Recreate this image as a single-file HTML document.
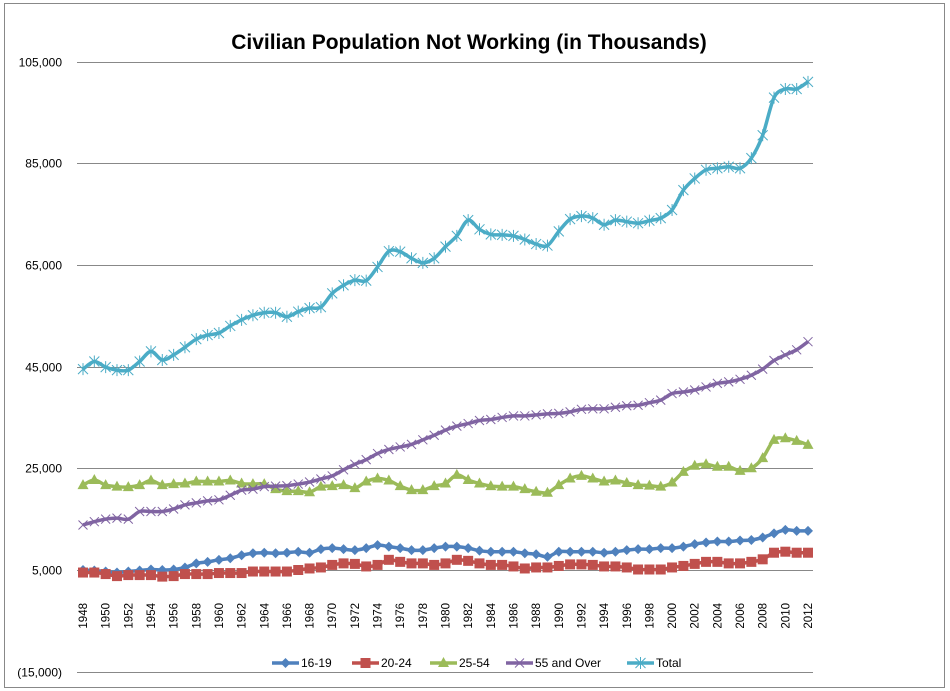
<!DOCTYPE html>
<html><head><meta charset="utf-8"><style>
body{margin:0;background:#fff;}
svg{display:block;font-family:"Liberation Sans",sans-serif;}
</style></head><body>
<svg id="chart" width="950" height="691">
<rect x="4.5" y="3.5" width="940" height="684" fill="#fff" stroke="#888"/>
<text x="469" y="49" text-anchor="middle" font-size="21" font-weight="bold">Civilian Population Not Working (in Thousands)</text>
<g id="grid"></g><g id="xlabels"></g><g id="series"></g><g id="legend"></g>
</svg>
<script>
const years = []; for (let y = 1948; y <= 2012; y++) years.push(y);
const yTicks = [105000, 85000, 65000, 45000, 25000, 5000, -15000];
const yTickLabels = ["105,000","85,000","65,000","45,000","25,000","5,000","(15,000)"];
const seriesNames = ["16-19","20-24","25-54","55 and Over","Total"];
const s1619 = [5.0,4.9,4.7,4.5,4.7,4.9,5.1,5.0,5.1,5.5,6.3,6.6,7.0,7.3,7.9,8.3,8.4,8.3,8.4,8.6,8.4,9.1,9.3,9.1,8.9,9.3,9.9,9.6,9.3,8.9,8.9,9.3,9.6,9.6,9.3,8.8,8.6,8.6,8.6,8.3,8.1,7.6,8.6,8.6,8.6,8.6,8.4,8.6,8.9,9.1,9.1,9.3,9.3,9.6,10.1,10.4,10.6,10.6,10.8,10.9,11.4,12.2,12.9,12.7,12.7];
const s2024 = [4.5,4.5,4.2,3.8,4.0,4.0,4.0,3.7,3.8,4.2,4.2,4.2,4.4,4.4,4.4,4.7,4.7,4.7,4.7,5.0,5.3,5.5,6.0,6.3,6.2,5.7,6.0,7.0,6.6,6.3,6.3,6.0,6.3,7.0,6.8,6.3,6.0,6.0,5.7,5.3,5.5,5.5,5.8,6.1,6.1,6.0,5.7,5.7,5.5,5.1,5.1,5.1,5.5,5.8,6.2,6.6,6.6,6.3,6.3,6.6,7.1,8.4,8.6,8.4,8.4];
const s2554 = [21.7,22.7,21.7,21.4,21.3,21.7,22.6,21.7,21.9,22.0,22.4,22.4,22.4,22.6,22.0,21.9,21.9,20.9,20.5,20.5,20.3,21.4,21.5,21.7,21.1,22.4,23.0,22.6,21.5,20.7,20.7,21.5,22.0,23.7,22.7,22.0,21.5,21.4,21.4,20.9,20.4,20.2,21.7,23.0,23.5,23.0,22.4,22.6,22.1,21.7,21.6,21.4,22.2,24.3,25.5,25.8,25.3,25.3,24.5,25.0,27.0,30.6,30.9,30.4,29.6];
const s55 = [13.85,14.5,15.0,15.2,15.0,16.5,16.5,16.5,17.0,17.8,18.2,18.6,18.8,19.7,20.7,20.9,21.4,21.5,21.6,21.9,22.3,22.9,23.5,24.7,25.8,26.7,27.9,28.7,29.2,29.7,30.6,31.5,32.5,33.3,33.8,34.4,34.6,35.0,35.3,35.3,35.5,35.7,35.8,36.1,36.6,36.7,36.7,37.0,37.3,37.4,37.9,38.4,39.7,40.0,40.4,41.0,41.7,42.0,42.5,43.3,44.5,46.2,47.3,48.3,49.9];
const sTotal = [44.5,46.0,44.9,44.3,44.3,46.0,48.0,46.3,47.3,48.8,50.4,51.2,51.6,53.0,54.2,55.1,55.6,55.6,54.8,55.8,56.5,56.7,59.4,61.0,62.0,61.9,64.6,67.7,67.6,66.3,65.4,66.3,68.6,70.7,73.8,72.0,71.0,70.9,70.7,70.0,69.1,68.8,71.6,74.0,74.6,74.2,72.9,73.8,73.5,73.2,73.7,74.2,75.8,79.7,82.0,83.7,84.0,84.3,84.0,86.0,90.5,97.9,99.6,99.6,101.0];

const NS="http://www.w3.org/2000/svg";
const X0=83, X1=808, PL=77, PR=813;
const xPos = i => X0 + (X1-X0)*i/(years.length-1);
const yPos = v => 570 - (v-5000)*(101.7/20000);
function mk(tag, attrs, parent){const e=document.createElementNS(NS,tag);for(const k in attrs)e.setAttribute(k,attrs[k]);parent.appendChild(e);return e;}

const grid=document.getElementById('grid');
yTicks.forEach((t,i)=>{
  const y=Math.round(yPos(t))+0.5;
  const l=mk('line',{x1:PL,x2:PR,y1:y,y2:y,stroke:'#888','stroke-width':1},grid);
  
  
  const tx=mk('text',{x:62,y:y+4,'text-anchor':'end','font-size':12},grid);
  tx.textContent=yTickLabels[i];
  
  
});
const xl=document.getElementById('xlabels');
years.forEach((yr,i)=>{
  if(i%2) return;
  const x=xPos(i)+4;
  const t=mk('text',{x:0,y:0,transform:`translate(${x},603) rotate(-90)`,'text-anchor':'end','font-size':11.5},xl);
  t.textContent=yr;
  
  
});

const colors=['#4F81BD','#C0504D','#9BBB59','#8064A2','#4BACC6'];
const data=[s1619,s2024,s2554,s55,sTotal];
function smoothPath(pts){
  let d=`M${pts[0][0]},${pts[0][1]}`;const t=0.16;
  for(let i=0;i<pts.length-1;i++){
    const p0=pts[Math.max(0,i-1)],p1=pts[i],p2=pts[i+1],p3=pts[Math.min(pts.length-1,i+2)];
    d+=` C${p1[0]+(p2[0]-p0[0])*t},${p1[1]+(p2[1]-p0[1])*t} ${p2[0]-(p3[0]-p1[0])*t},${p2[1]-(p3[1]-p1[1])*t} ${p2[0]},${p2[1]}`;
  }
  return d;
}
function marker(k,x,y,g,c){
  let e;
  if(k===0) e=mk('polygon',{points:`${x},${y-5} ${x+5},${y} ${x},${y+5} ${x-5},${y}`,fill:c},g);
  else if(k===1) e=mk('rect',{x:x-5,y:y-5,width:10,height:10,fill:c},g);
  else if(k===2) e=mk('polygon',{points:`${x},${y-6} ${x+5.5},${y+4} ${x-5.5},${y+4}`,fill:c},g);
  else if(k===3) e=mk('path',{d:`M${x-4.5},${y-4.5}L${x+4.5},${y+4.5}M${x-4.5},${y+4.5}L${x+4.5},${y-4.5}`,stroke:c,'stroke-width':1,fill:'none'},g);
  else e=mk('path',{d:`M${x-5},${y-5}L${x+5},${y+5}M${x-5},${y+5}L${x+5},${y-5}M${x},${y-6}V${y+6}`,stroke:c,'stroke-width':1,fill:'none'},g);
  return e;
}
const sg=document.getElementById('series');
data.forEach((arr,k)=>{
  const g=mk('g',{},sg);
  
  
  const pts=arr.map((v,i)=>[xPos(i),yPos(v*1000)]);
  const p=mk('path',{d:smoothPath(pts),fill:'none',stroke:colors[k],'stroke-width':3.5,'stroke-linejoin':'round'},g);
  
  
  pts.forEach(q=>{
    const m=marker(k,q[0],q[1],g,colors[k]);
    
    
  });
});

const lg=document.getElementById('legend');
const lx=[272,352,430,506,627];
seriesNames.forEach((n,k)=>{
  const g=mk('g',{},lg);
  
  
  mk('line',{x1:lx[k],x2:lx[k]+27,y1:663,y2:663,stroke:colors[k],'stroke-width':3.5},g);
  marker(k,lx[k]+13.5,663,g,colors[k]);
  const t=mk('text',{x:lx[k]+29,y:667,'font-size':12},g);
  t.textContent=n;
});
</script>
</body></html>
